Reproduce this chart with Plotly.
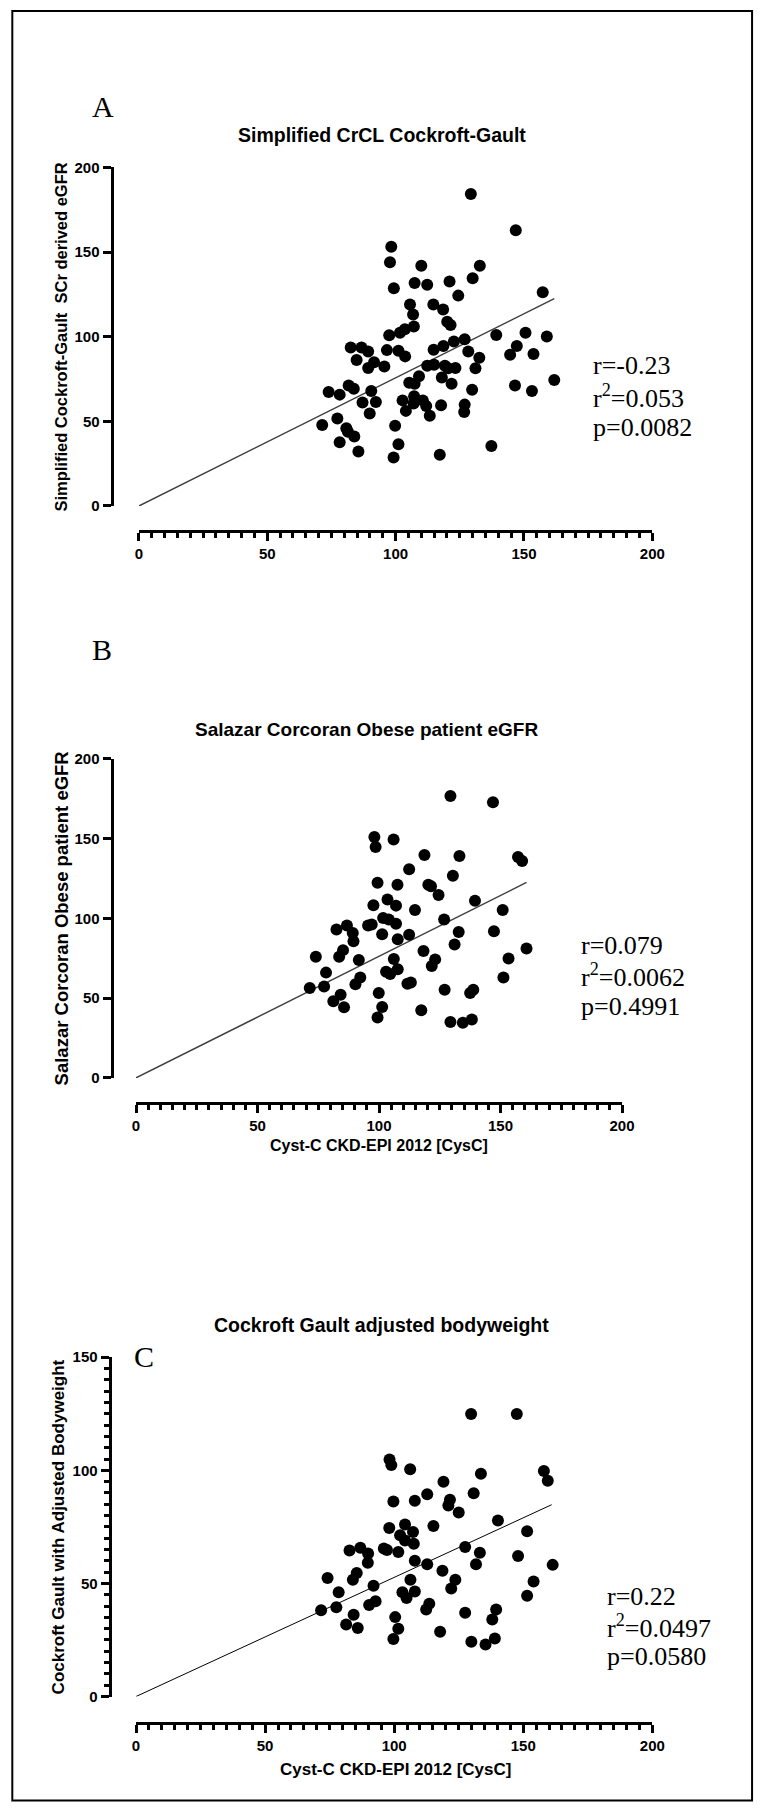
import plotly.graph_objects as go

W, H = 768, 1812


def px(x):
    return x / W


def py(y):
    return 1 - y / H


# ---------------- data ----------------
# Panel A: Simplified CrCL Cockroft-Gault vs Cyst-C CKD-EPI 2012
a_x = [129.3, 146.8, 98.3, 97.8, 110.0, 132.8, 130.0, 107.4, 112.3, 121.0,
       99.3, 157.3, 124.4, 105.6, 114.7, 118.5, 106.8, 107.1, 120.1, 121.4,
       103.6, 101.7, 97.5, 139.2, 150.6, 158.9, 126.9, 122.7, 118.6, 147.2,
       82.5, 86.7, 89.3, 96.6, 101.1, 103.7, 114.8, 128.3, 144.6, 153.7,
       132.6, 84.8, 91.6, 89.3, 95.6, 112.3, 115.0, 119.2, 120.5, 123.3,
       131.1, 109.1, 105.3, 107.4, 118.0, 121.8, 81.7, 83.7, 90.5, 73.9,
       78.2, 129.8, 146.5, 153.1, 161.8, 87.1, 92.3, 102.7, 107.2, 107.0,
       110.6, 111.9, 104.0, 113.3, 117.7, 126.9, 126.7, 89.9, 71.4, 77.3,
       80.8, 81.4, 83.9, 78.2, 85.5, 99.8, 101.1, 99.2, 117.2, 137.3]
a_y = [184.4, 162.9, 153.2, 144.0, 141.9, 141.9, 134.6, 131.7, 130.7, 132.7,
       128.6, 126.3, 124.3, 119.0, 119.0, 116.1, 113.2, 106.0, 108.9, 106.9,
       104.4, 102.4, 100.9, 101.1, 102.4, 100.1, 98.5, 97.2, 94.6, 94.6,
       93.7, 93.7, 91.3, 92.1, 91.7, 88.4, 92.3, 91.3, 89.4, 89.8,
       87.6, 86.3, 84.9, 81.6, 82.4, 82.9, 83.5, 82.9, 81.4, 81.6,
       81.4, 76.7, 72.8, 72.2, 75.9, 72.2, 71.2, 69.3, 67.9, 67.3,
       65.8, 68.7, 71.2, 67.9, 74.5, 61.1, 61.5, 62.4, 64.8, 60.5,
       62.4, 59.1, 56.2, 53.3, 59.5, 59.9, 55.6, 54.6, 47.8, 51.7,
       45.9, 43.9, 41.0, 37.7, 32.2, 47.4, 36.5, 28.7, 30.3, 35.5]
a_fit_x = [0, 161.8]
a_fit_y = [0, 122.5]

# Panel B: Salazar Corcoran Obese patient eGFR vs Cyst-C CKD-EPI 2012
b_x = [129.4, 146.9, 98.1, 98.6, 106.0, 118.7, 133.1, 157.2, 158.9, 112.4,
       130.4, 99.4, 107.6, 120.3, 121.4, 124.5, 139.5, 103.5, 97.7, 107.0,
       114.8, 150.9, 101.7, 104.0, 126.8, 95.5, 97.0, 86.8, 107.0, 82.5,
       89.2, 101.3, 89.5, 107.7, 112.4, 132.8, 147.3, 131.1, 85.2, 83.6,
       74.0, 91.7, 106.1, 118.3, 123.1, 121.7, 153.3, 160.7, 78.2, 102.9,
       104.6, 107.7, 92.3, 90.3, 111.7, 113.1, 151.2, 71.5, 77.4, 84.2,
       81.2, 85.6, 99.9, 101.3, 99.4, 117.4, 127.0, 137.5, 138.8, 129.4,
       134.5, 138.2]
b_y = [176.8, 172.8, 151.1, 144.7, 149.4, 139.7, 139.1, 138.5, 136.0, 130.8,
       126.7, 122.3, 121.1, 121.1, 120.2, 114.7, 111.1, 111.8, 108.2, 108.0,
       105.3, 105.3, 100.2, 99.3, 99.3, 95.6, 96.2, 95.6, 96.6, 93.1,
       90.8, 90.0, 85.7, 86.9, 89.8, 91.5, 91.9, 83.6, 80.1, 75.9,
       75.9, 73.9, 74.5, 79.5, 74.3, 70.1, 74.9, 81.1, 66.0, 66.6,
       65.2, 68.1, 62.9, 58.7, 59.0, 59.8, 62.9, 56.3, 57.3, 52.1,
       48.0, 44.3, 53.2, 44.5, 37.8, 42.4, 55.2, 53.2, 55.2, 35.0,
       34.5, 36.6]
b_fit_x = [0, 160.7]
b_fit_y = [0, 122.5]

# Panel C: Cockroft Gault with adjusted bodyweight vs Cyst-C CKD-EPI 2012
c_x = [129.8, 147.5, 98.2, 98.9, 106.2, 158.0, 159.5, 119.1, 133.6, 130.8,
       112.8, 99.7, 108.0, 121.6, 121.0, 125.0, 140.2, 115.2, 98.1, 104.2,
       107.3, 102.3, 104.2, 107.6, 151.5, 82.7, 86.9, 89.9, 96.0, 97.2,
       101.6, 127.5, 133.2, 89.8, 108.0, 112.8, 131.7, 148.0, 161.4, 118.7,
       85.5, 84.0, 74.2, 106.3, 123.7, 122.1, 92.0, 78.5, 103.2, 104.8,
       108.0, 154.0, 151.5, 90.3, 92.8, 112.4, 113.6, 77.6, 71.7, 127.5,
       139.5, 138.0, 84.3, 81.4, 85.9, 100.4, 101.6, 99.7, 117.8, 129.9,
       135.4, 139.0]
c_y = [124.9, 124.9, 104.8, 102.3, 100.5, 99.7, 95.4, 95.0, 98.5, 89.9,
       89.4, 86.2, 86.5, 87.0, 84.5, 81.4, 77.8, 75.4, 74.5, 76.0,
       72.7, 71.3, 69.0, 67.5, 73.1, 64.6, 65.8, 63.2, 65.4, 64.8,
       63.9, 66.1, 63.6, 59.1, 60.0, 58.5, 58.5, 62.1, 58.2, 55.6,
       54.6, 51.6, 52.4, 51.6, 51.6, 47.8, 49.0, 46.1, 46.1, 43.5,
       46.4, 50.8, 44.6, 40.5, 42.1, 38.5, 41.0, 39.5, 38.1, 37.0,
       38.5, 34.1, 36.1, 31.8, 30.3, 35.1, 30.0, 25.4, 28.6, 24.2,
       23.0, 25.6]
c_fit_x = [0, 161.0]
c_fit_y = [0, 84.8]

x_ticks = [0, 50, 100, 150, 200]
ab_y_ticks = [0, 50, 100, 150, 200]
c_y_ticks = [0, 50, 100, 150]

titles = ["Simplified CrCL Cockroft-Gault",
          "Salazar Corcoran Obese patient eGFR",
          "Cockroft Gault adjusted bodyweight"]
y_titles = ["Simplified Cockroft-Gault  SCr derived eGFR",
            "Salazar Corcoran Obese patient eGFR",
            "Cockroft Gault with Adjusted Bodyweight"]
x_title = "Cyst-C CKD-EPI 2012 [CysC]"
panel_letters = ["A", "B", "C"]
stats = [["r=-0.23", "r<sup>2</sup>=0.053", "p=0.0082"],
         ["r=0.079", "r<sup>2</sup>=0.0062", "p=0.4991"],
         ["r=0.22", "r<sup>2</sup>=0.0497", "p=0.0580"]]

# ---------------- layout geometry (pixels) ----------------
panels = [
    dict(xs=(138, 663), ys=(501.7, 160), xline=527, yline=110, ymax=200,
         yticks=ab_y_ticks, yminor=False, title_xy=(386.5, 127), title_size=19.5,
         ytitle_xy=(58, 331), ytitle_size=16.5, xtitle=None,
         letter_xy=(101.7, 98), stats_xy=(600, [360, 391, 422]),
         fit_color="#3c3c3c", fit_width=1.4),
    dict(xs=(135, 632), ys=(1079, 757), xline=1104, yline=110, ymax=200,
         yticks=ab_y_ticks, yminor=False, title_xy=(371, 727), title_size=19,
         ytitle_xy=(58.3, 918), ytitle_size=18.5, xtitle=(383, 1147, 16),
         letter_xy=(100, 647), stats_xy=(587.7, [945, 976, 1007]),
         fit_color="#3c3c3c", fit_width=1.4),
    dict(xs=(135, 663), ys=(1703.5, 1361), xline=1730, yline=108, ymax=150,
         yticks=c_y_ticks, yminor=True, title_xy=(386, 1328.4), title_size=19.5,
         ytitle_xy=(56, 1532), ytitle_size=17, xtitle=(400, 1777, 17),
         letter_xy=(143.3, 1360), stats_xy=(615, [1603, 1633, 1663]),
         fit_color="black", fit_width=1.0),
]

data_sets = [(a_x, a_y, a_fit_x, a_fit_y),
             (b_x, b_y, b_fit_x, b_fit_y),
             (c_x, c_y, c_fit_x, c_fit_y)]

SANS = "Liberation Sans"
SERIF = "Liberation Serif"

fig = go.Figure()
annotations = []
layout_axes = {}

for i, (p, (xs_, ys_, fx, fy)) in enumerate(zip(panels, data_sets)):
    n = "" if i == 0 else str(i + 1)
    xa, ya = "x" + n, "y" + n
    fig.add_trace(go.Scatter(x=fx, y=fy, xaxis=xa, yaxis=ya, mode="lines",
                             line=dict(color=p["fit_color"], width=p["fit_width"]),
                             hoverinfo="skip", showlegend=False))
    fig.add_trace(go.Scatter(x=xs_, y=ys_, xaxis=xa, yaxis=ya, mode="markers",
                             marker=dict(color="black", size=12, line=dict(width=0)),
                             showlegend=False, cliponaxis=False))

    tickfont = dict(family=SANS, size=15, color="black", weight=700)
    layout_axes["xaxis" + n] = dict(
        domain=[px(p["xs"][0]), px(p["xs"][1])], range=[0, 200],
        anchor="free", position=py(p["xline"]),
        showline=True, linewidth=3, linecolor="black",
        ticks="outside", ticklen=8, tickwidth=3, tickcolor="black",
        tickvals=x_ticks, tickfont=tickfont,
        minor=dict(dtick=5, tick0=0, ticks="outside", ticklen=5, tickwidth=2.5,
                   tickcolor="black", showgrid=False),
        showgrid=False, zeroline=False, fixedrange=True)
    yax = dict(
        domain=[py(p["ys"][0]), py(p["ys"][1])], range=[0, p["ymax"]],
        anchor="free", position=px(p["yline"]),
        showline=True, linewidth=3, linecolor="black",
        ticks="outside", ticklen=8, tickwidth=3, tickcolor="black",
        tickvals=p["yticks"], tickfont=tickfont,
        showgrid=False, zeroline=False, fixedrange=True)
    if p["yminor"]:
        yax["minor"] = dict(dtick=5, tick0=0, ticks="outside", ticklen=5,
                            tickwidth=2.5, tickcolor="black", showgrid=False)
    layout_axes["yaxis" + n] = yax

    bold = dict(family=SANS, color="black", weight=700)
    # title
    tx, ty = p["title_xy"]
    annotations.append(dict(text=titles[i], x=px(tx), y=py(ty),
                            xref="paper", yref="paper", showarrow=False,
                            xanchor="center", yanchor="middle",
                            font=dict(bold, size=p["title_size"])))
    # y title
    yx, yy = p["ytitle_xy"]
    annotations.append(dict(text=y_titles[i], x=px(yx), y=py(yy),
                            xref="paper", yref="paper", showarrow=False, textangle=-90,
                            xanchor="center", yanchor="middle",
                            font=dict(bold, size=p["ytitle_size"])))
    # x title
    if p["xtitle"]:
        xx, xy, xs = p["xtitle"]
        annotations.append(dict(text=x_title, x=px(xx), y=py(xy),
                                xref="paper", yref="paper", showarrow=False,
                                xanchor="center", yanchor="middle",
                                font=dict(bold, size=xs)))
    # panel letter
    lx, ly = p["letter_xy"]
    annotations.append(dict(text=panel_letters[i], x=px(lx), y=py(ly),
                            xref="paper", yref="paper", showarrow=False,
                            xanchor="center", yanchor="middle",
                            font=dict(family=SERIF, size=30, color="black")))
    # stats
    sx, sys_ = p["stats_xy"]
    for txt, yy_ in zip(stats[i], sys_):
        annotations.append(dict(text=txt, x=px(sx), y=py(yy_),
                                xref="paper", yref="paper", showarrow=False,
                                xanchor="left", yanchor="middle",
                                font=dict(family=SERIF, size=26, color="black")))

fig.update_layout(
    width=W, height=H,
    margin=dict(l=0, r=0, t=0, b=0),
    paper_bgcolor="white", plot_bgcolor="white",
    showlegend=False,
    annotations=annotations,
    shapes=[dict(type="rect", xref="paper", yref="paper",
                 x0=px(8.5), x1=px(765), y0=py(1808.5), y1=py(2),
                 line=dict(color="black", width=2))],
    **layout_axes,
)

fig.write_html("out.html")
